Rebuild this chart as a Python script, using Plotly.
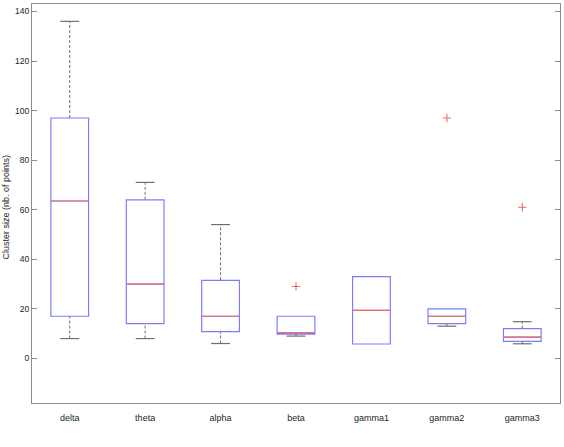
import plotly.graph_objects as go

# ---- data ----
categories = ["delta", "theta", "alpha", "beta", "gamma1", "gamma2", "gamma3"]
q1 = [17, 14, 10.8, 9.8, 5.8, 14, 6.9]
median = [63.5, 30, 17, 10.3, 19.4, 17, 8.6]
q3 = [97, 64, 31.5, 17, 33, 20, 12]
lower_whisker = [8, 8, 6, 9, 5.8, 13, 5.9]
upper_whisker = [136, 71, 54, 17, 33, 20, 14.8]
outlier_cat = ["beta", "gamma2", "gamma3"]
outlier_val = [29, 97, 61]
y_ticks = [0, 20, 40, 60, 80, 100, 120, 140]

pos = list(range(1, len(categories) + 1))
BOXW = 0.5
CAPW = 0.25

BLUE = "rgb(125,125,250)"
RED = "rgb(240,105,105)"
WHISK = "rgb(110,110,110)"
AXIS = "rgb(140,140,140)"
TXT = "rgb(30,30,30)"

fig = go.Figure()

# whiskers (dashed) and caps, only where the whisker extends beyond the box
wx, wy, cx, cy = [], [], [], []
for p, a, b, c, d in zip(pos, lower_whisker, q1, q3, upper_whisker):
    if a < b:
        wx += [p, p, None]
        wy += [a, b, None]
        cx += [p - CAPW / 2, p + CAPW / 2, None]
        cy += [a, a, None]
    if d > c:
        wx += [p, p, None]
        wy += [c, d, None]
        cx += [p - CAPW / 2, p + CAPW / 2, None]
        cy += [d, d, None]
fig.add_trace(go.Scatter(x=wx, y=wy, mode="lines",
                         line=dict(color=WHISK, width=1, dash="3px,2px"),
                         showlegend=False, hoverinfo="skip"))
fig.add_trace(go.Scatter(x=cx, y=cy, mode="lines",
                         line=dict(color=WHISK, width=1.2),
                         showlegend=False, hoverinfo="skip"))

fig.add_trace(go.Box(
    x=pos, q1=q1, median=median, q3=q3,
    lowerfence=q1, upperfence=q3,
    width=BOXW, whiskerwidth=0,
    line=dict(color=BLUE, width=1.2),
    fillcolor="rgba(0,0,0,0)",
    boxpoints=False, hoverinfo="skip", showlegend=False,
))

# medians (red)
mx, my = [], []
for p, m in zip(pos, median):
    mx += [p - BOXW / 2, p + BOXW / 2, None]
    my += [m, m, None]
fig.add_trace(go.Scatter(x=mx, y=my, mode="lines",
                         line=dict(color=RED, width=1.2),
                         showlegend=False, hoverinfo="skip"))

# outliers
ox = [pos[categories.index(c)] for c in outlier_cat]
fig.add_trace(go.Scatter(x=ox, y=outlier_val, mode="markers",
                         marker=dict(symbol="cross-thin", size=6,
                                     line=dict(color=RED, width=1.1)),
                         showlegend=False, hoverinfo="skip"))

fig.update_layout(
    width=564, height=447,
    margin=dict(l=32, r=4, t=4, b=44),
    paper_bgcolor="white", plot_bgcolor="white",
    font=dict(family="Liberation Sans, Arial, sans-serif", color=TXT),
    showlegend=False,
)
fig.update_xaxes(
    range=[0.5, 7.5], tickmode="array", tickvals=pos, ticktext=categories,
    ticks="", showgrid=False, zeroline=False,
    showline=True, linecolor=AXIS, linewidth=1, mirror=True,
    tickfont=dict(size=9, color=TXT), ticklabelstandoff=6,
)
fig.update_yaxes(
    range=[-18, 143], tickmode="array", tickvals=y_ticks,
    ticks="inside", ticklen=5, tickcolor=AXIS, tickwidth=1,
    showgrid=False, zeroline=False,
    showline=True, linecolor=AXIS, linewidth=1, mirror="ticks",
    tickfont=dict(size=8.5, color=TXT),
)
fig.add_annotation(
    text="Cluster size (nb. of points)", textangle=-90,
    xref="paper", yref="paper", x=-26 / 528, y=0.49,
    xanchor="center", yanchor="middle", showarrow=False,
    font=dict(size=9, color=TXT),
)

fig.write_html("out.html")
